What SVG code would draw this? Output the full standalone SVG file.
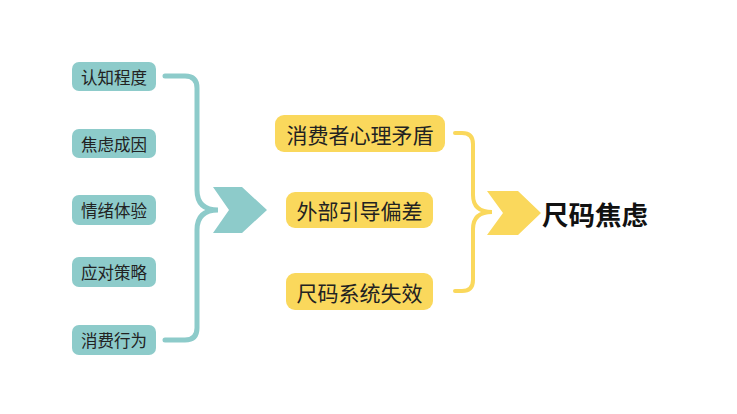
<svg xmlns="http://www.w3.org/2000/svg" width="737" height="414" viewBox="0 0 737 414">
<style>
.tb{fill:#8DCBCA}
.yb{fill:#FAD85C}
.tt{font-family:"Noto Sans CJK SC",sans-serif;font-size:16.5px;fill:#222;text-anchor:middle;dominant-baseline:central}
.yt{font-family:"Noto Sans CJK SC",sans-serif;font-size:21px;fill:#222;text-anchor:middle;dominant-baseline:central}
.tl{fill:none;stroke:#8DCBCA;stroke-width:5;stroke-linecap:round}
.yl{fill:none;stroke:#FAD85C;stroke-width:4;stroke-linecap:round}
</style>
<rect width="737" height="414" fill="#fff"/>
<g id="connectors">
<path class="tl" d="M165 76 H185 Q197 76 197 88 V190 Q197 210 218 210 Q197 210 197 230 V328 Q197 340 185 340 H165"/>
<path class="yl" d="M455 133 H462 Q473 133 473 144 V195 Q473 212 492 212 Q473 212 473 229 V280 Q473 291 462 291 H455"/>
<polygon class="tb" points="213,187 242,187 267,210 242,233 213,233 229,210"/>
<polygon class="yb" points="487,191 518,191 541,213 518,235 487,235 503,213"/>
</g>
<g id="n1"><rect class="tb" x="72" y="62" width="84" height="29" rx="7"/><text class="tt" x="114" y="76.5">认知程度</text></g>
<g id="n2"><rect class="tb" x="72" y="129" width="84" height="29" rx="7"/><text class="tt" x="114" y="143.5">焦虑成因</text></g>
<g id="n3"><rect class="tb" x="72" y="195" width="84" height="30" rx="7"/><text class="tt" x="114" y="210">情绪体验</text></g>
<g id="n4"><rect class="tb" x="72" y="257" width="84" height="30" rx="7"/><text class="tt" x="114" y="272">应对策略</text></g>
<g id="n5"><rect class="tb" x="72" y="325" width="84" height="30" rx="7"/><text class="tt" x="114" y="340">消费行为</text></g>
<g id="y1"><rect class="yb" x="275" y="115" width="170" height="37" rx="9"/><text class="yt" x="360" y="133.5">消费者心理矛盾</text></g>
<g id="y2"><rect class="yb" x="286" y="192" width="147" height="36" rx="9"/><text class="yt" x="359.5" y="210">外部引导偏差</text></g>
<g id="y3"><rect class="yb" x="286" y="273" width="147" height="37" rx="9"/><text class="yt" x="359.5" y="291.5">尺码系统失效</text></g>
<g id="result"><text x="595" y="213" font-family="Noto Sans CJK SC,sans-serif" font-size="26.5" font-weight="bold" fill="#111" text-anchor="middle" dominant-baseline="central">尺码焦虑</text></g>
</svg>
